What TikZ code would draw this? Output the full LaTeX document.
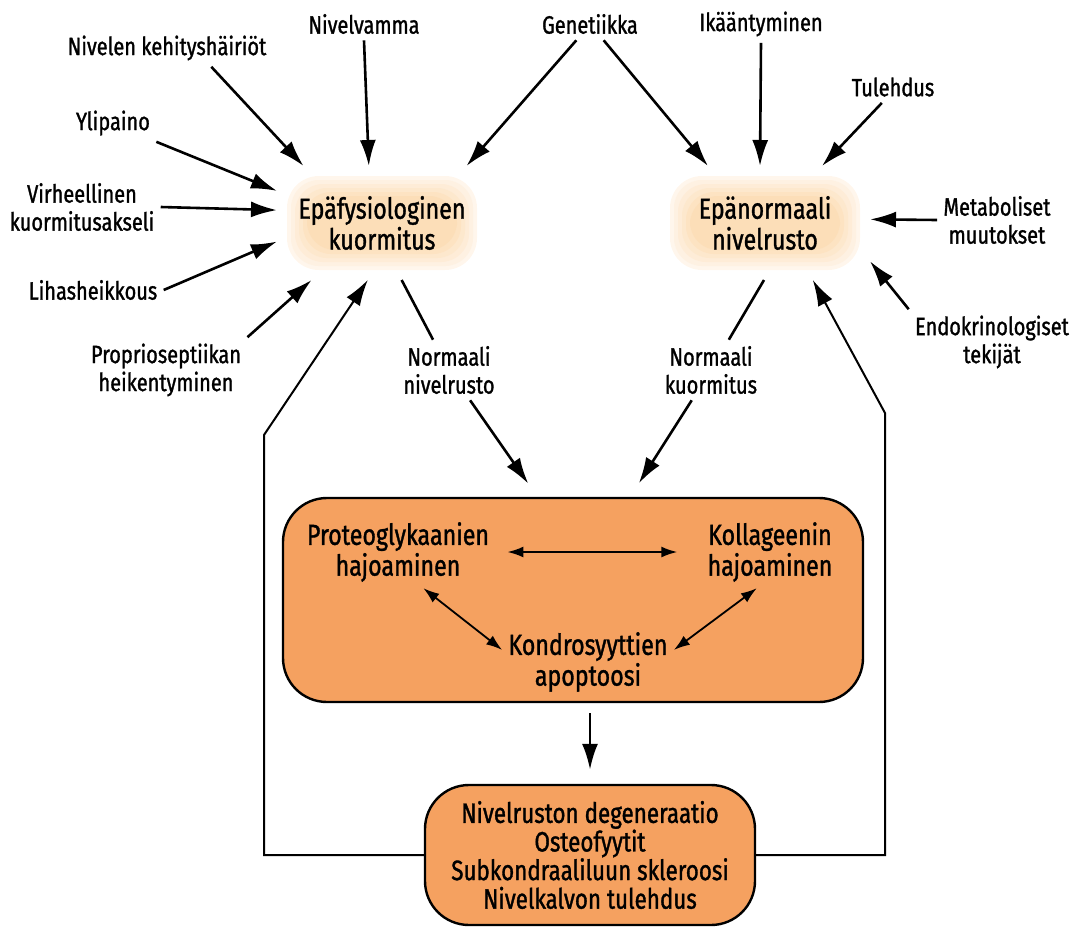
\documentclass[tikz,border=0pt]{standalone}
\usepackage{fontspec}
\setmainfont[FakeStretch=0.8, FakeBold=1.2]{Fira Sans}
\usepackage{tikz}
\usetikzlibrary{arrows.meta, positioning}
\definecolor{hubcore}{RGB}{252,222,184}
\definecolor{hubedge}{RGB}{255,246,236}
\definecolor{boxfill}{RGB}{245,161,96}

\begin{document}
\begin{tikzpicture}[x=0.5pt, y=-0.5pt,
   lab/.style={align=center, font=\fontsize{12.5}{14}\selectfont, inner sep=3pt},
   hub/.style={align=center, font=\fontsize{14.5}{14}\selectfont, inner sep=2pt,
               fill=hubedge, rounded corners=16pt, minimum width=95pt,
               minimum height=47pt, outer sep=5pt,
               path picture={
                 \foreach \s/\c in {2/20, 4/40, 6/60, 8/80, 10/100}
                   \fill[hubcore!\c!hubedge, rounded corners=14pt]
                     ([shift={(\s pt,\s pt)}]path picture bounding box.south west)
                     rectangle ([shift={(-\s pt,-\s pt)}]path picture bounding box.north east);
               }},
   box/.style={draw, line width=1.2pt, fill=boxfill, rounded corners=22pt},
   inner/.style={align=center, font=\fontsize{14.5}{13.5}\selectfont, inner sep=3pt},
   big/.style={align=center, font=\fontsize{14}{14.3}\selectfont},
   arr/.style={-{Latex[length=13pt, width=8pt]}, line width=1.3pt},
   fb/.style={-{Latex[length=13pt, width=8pt]}, line width=1pt},
   darr/.style={{Latex[length=8pt, width=5.5pt]}-{Latex[length=8pt, width=5.5pt]},
                line width=0.9pt}]
  \useasboundingbox (0,0) rectangle (1078,927);

  % causes
  \node[lab] (kehit) at (167,48) {Nivelen kehityshäiriöt};
  \node[lab] (vamma) at (364,24) {Nivelvamma};
  \node[lab] (yli) at (113,123) {Ylipaino};
  \node[lab] (virh) at (82,207) {Virheellinen\\kuormitusakseli};
  \node[lab] (lihas) at (93,290) {Lihasheikkous};
  \node[lab] (prop) at (166,370) {Proprioseptiikan\\heikentyminen};
  \node[lab] (gen) at (590,24) {Genetiikka};
  \node[lab] (ika) at (761,24) {Ikääntyminen};
  \node[lab] (tul) at (893,87) {Tulehdus};
  \node[lab] (meta) at (997,220) {Metaboliset\\muutokset};
  \node[lab] (endo) at (992,342) {Endokrinologiset\\tekijät};

  % the two hubs
  \node[hub] (kuorm) at (382,223) {Epäfysiologinen\\kuormitus};
  \node[hub] (rusto) at (765,223) {Epänormaali\\nivelrusto};

  \node[lab] (nnr) at (449,370) {Normaali\\nivelrusto};
  \node[lab] (nku) at (711,370) {Normaali\\kuormitus};

  % breakdown box
  \node[box, minimum width=290pt, minimum height=102pt] (proc) at (573,600) {};
  \node[inner] (prot) at (398,552) {Proteoglykaanien\\hajoaminen};
  \node[inner] (koll) at (770,552) {Kollageenin\\hajoaminen};
  \node[inner] (kondro) at (588,662) {Kondrosyyttien\\apoptoosi};

  \node[box, big, minimum width=165pt, minimum height=70pt] (bot) at (590,855)
       {Nivelruston degeneraatio\\Osteofyytit\\Subkondraaliluun skleroosi\\Nivelkalvon tulehdus};

  \coordinate (lfb) at (264,435);
  \coordinate (rfb) at (885,413);

  \draw[arr] (kehit.-23) -- (kuorm.144);
  \draw[arr] (vamma.south) -- (kuorm.103);
  \draw[arr] (yli.south east) -- (kuorm.163);
  \draw[arr] (virh.east) -- (kuorm.173);
  \draw[arr] (lihas.east) -- (kuorm.190);
  \draw[arr] (prop.north east) -- (kuorm.219);
  \draw[arr] (gen.-130) -- (kuorm.34);
  \draw[arr] (gen.-50) -- (rusto.135);
  \draw[arr] (ika.south) -- (rusto.95);
  \draw[arr] (tul.-125) -- (rusto.45);
  \draw[arr] (meta.west) -- (rusto.2);
  \draw[arr] (endo.north west) -- (rusto.-20);

  \draw[line width=1.3pt] (kuorm.-71) -- (nnr);
  \draw[arr, shorten >=8pt] (nnr) -- (proc.109);
  \draw[line width=1.3pt] (rusto.-91) -- (nku);
  \draw[arr, shorten >=8pt] (nku) -- (proc.61);

  \draw[darr, shorten <=6pt, shorten >=12pt] (prot.east) -- (koll.west);
  \draw[darr] (prot.-55) -- (kondro.172);
  \draw[darr] (koll.-110) -- (kondro.8);

  \draw[arr, shorten <=5pt, shorten >=7pt] (proc.south -| bot.north) -- (bot.north);

  \draw[fb] (bot.west) -| (lfb) -- (kuorm.256);
  \draw[fb] (bot.east) -| (rfb) -- (rusto.-50);
\end{tikzpicture}
\end{document}
